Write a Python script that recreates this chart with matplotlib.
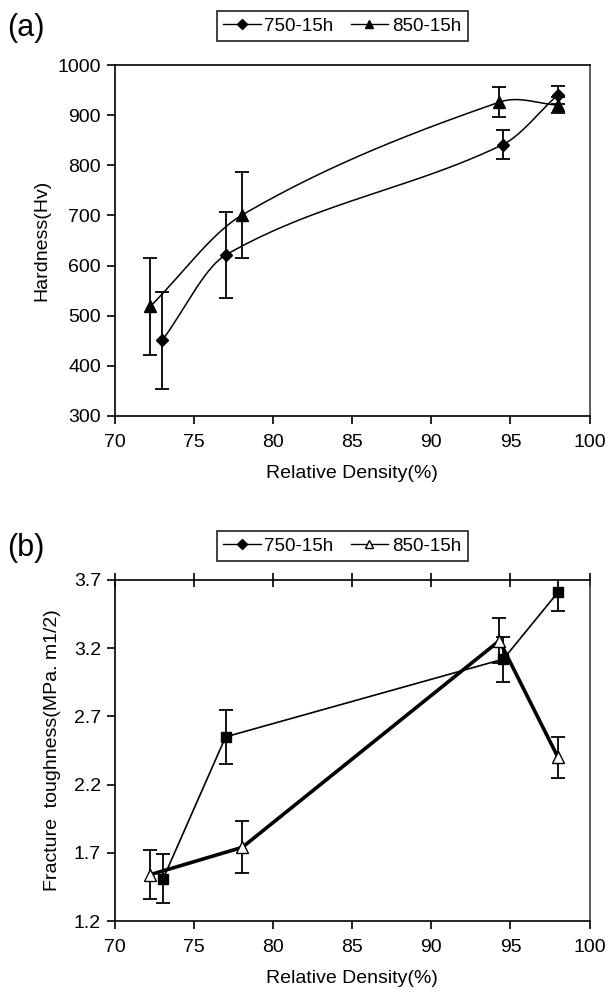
import numpy as np
import matplotlib
matplotlib.use('Agg')
import matplotlib.pyplot as plt
from matplotlib.lines import Line2D

plt.rcParams['font.family'] = ['Liberation Sans', 'DejaVu Sans']
plt.rcParams['font.size'] = 14

# (a) hardness
a750_x = [73.0, 77.0, 94.5, 98.0]
a750_y = [451, 621, 841, 941]
a750_err = [97, 86, 29, 18]
a850_x = [72.25, 78.05, 94.3, 98.0]
a850_y = [519, 701, 926, 920]
a850_err = [97, 86, 30, 16]

# (b) fracture toughness
b750_x = [73.05, 77.0, 94.55, 98.0]
b750_y = [1.51, 2.55, 3.12, 3.61]
b750_err = [0.18, 0.2, 0.165, 0.14]
b850_x = [72.25, 78.05, 94.3, 98.0]
b850_y = [1.54, 1.74, 3.255, 2.40]
b850_err = [0.18, 0.19, 0.165, 0.15]

labels = ['750-15h', '850-15h']


def smooth(xs, ys, n=50):
    # smoothed line through the points (cubic hermite, catmull-rom slopes)
    x = np.asarray(xs, float)
    y = np.asarray(ys, float)
    m = np.zeros_like(y)
    m[0] = (y[1] - y[0]) / (x[1] - x[0])
    m[-1] = (y[-1] - y[-2]) / (x[-1] - x[-2])
    m[1:-1] = (y[2:] - y[:-2]) / (x[2:] - x[:-2])
    px, py = [], []
    for i in range(len(x) - 1):
        h = x[i + 1] - x[i]
        t = np.linspace(0, 1, n)
        h00 = 2 * t**3 - 3 * t**2 + 1
        h10 = t**3 - 2 * t**2 + t
        h01 = -2 * t**3 + 3 * t**2
        h11 = t**3 - t**2
        px.append(x[i] + t * h)
        py.append(h00 * y[i] + h10 * h * m[i] + h01 * y[i + 1] + h11 * h * m[i + 1])
    return np.concatenate(px), np.concatenate(py)


def style_axes(ax):
    for sp in ax.spines.values():
        sp.set_linewidth(1.2)
        sp.set_color('black')
    ax.spines['right'].set_color('#444444')
    ax.tick_params(direction='out', length=6, width=1.2, colors='black', labelsize=14)
    ax.tick_params(axis='x', pad=7)
    ax.tick_params(axis='y', pad=4)
    ax.set_xlim(70, 100)
    ax.set_xticks(range(70, 101, 5))


fig = plt.figure(figsize=(6.11, 10), dpi=100)

ax1 = fig.add_axes([0.188, 0.584, 0.777, 0.351])
style_axes(ax1)
sx, sy = smooth(a750_x, a750_y)
ax1.plot(sx, sy, color='black', lw=1.1)
sx, sy = smooth(a850_x, a850_y)
ax1.plot(sx, sy, color='black', lw=1.1)
ax1.errorbar(a750_x, a750_y, yerr=a750_err, fmt='D', color='black', ms=6,
             capsize=5, elinewidth=1.3, capthick=1.3)
ax1.errorbar(a850_x, a850_y, yerr=a850_err, fmt='^', color='black', ms=8,
             capsize=5, elinewidth=1.3, capthick=1.3)
ax1.set_ylim(300, 1000)
ax1.set_yticks(range(300, 1001, 100))
ax1.set_xlabel('Relative Density(%)', labelpad=10)
ax1.set_ylabel('Hardness(Hv)', labelpad=5)

h_a = [Line2D([], [], color='black', lw=1, marker='D', ms=5),
       Line2D([], [], color='black', lw=1, marker='^', ms=6)]
leg = fig.legend(h_a, labels, loc='center', bbox_to_anchor=(0.56, 0.974), ncol=2,
                 frameon=True, fancybox=False, edgecolor='black', handlelength=2.0,
                 handletextpad=0.2, columnspacing=0.9, borderpad=0.35, fontsize=13.5)
leg.get_frame().set_linewidth(1.3)
fig.text(0.012, 0.972, '(a)', fontsize=22, va='center')

ax2 = fig.add_axes([0.188, 0.079, 0.777, 0.341])
style_axes(ax2)
ax2.plot(b750_x, b750_y, color='black', lw=1.2)
ax2.plot(b850_x, b850_y, color='black', lw=2.6)
ax2.errorbar(b750_x, b750_y, yerr=b750_err, fmt='s', color='black', ms=7,
             capsize=5, elinewidth=1.3, capthick=1.3)
ax2.errorbar(b850_x, b850_y, yerr=b850_err, fmt='^', mfc='white', mec='black',
             ecolor='black', ms=9, capsize=5, elinewidth=1.3, capthick=1.3)
ax2.set_ylim(1.2, 3.7)
ax2.set_yticks(np.arange(1.2, 3.71, 0.5))
ax2.tick_params(axis='x', which='major', top=True)
for t in ax2.xaxis.get_major_ticks():
    t.tick2line.set_marker('|')
    t.tick2line.set_markersize(10)
ax2.set_xlabel('Relative Density(%)', labelpad=10)
ax2.set_ylabel('Fracture  toughness(MPa. m1/2)', labelpad=9)

h_b = [Line2D([], [], color='black', lw=1, marker='D', ms=5),
       Line2D([], [], color='black', lw=1, marker='^', ms=6, mfc='white')]
leg2 = fig.legend(h_b, labels, loc='center', bbox_to_anchor=(0.56, 0.454), ncol=2,
                  frameon=True, fancybox=False, edgecolor='black', handlelength=2.0,
                  handletextpad=0.2, columnspacing=0.9, borderpad=0.35, fontsize=13.5)
leg2.get_frame().set_linewidth(1.3)
fig.text(0.012, 0.452, '(b)', fontsize=22, va='center')

fig.savefig('out.png', dpi=100)
